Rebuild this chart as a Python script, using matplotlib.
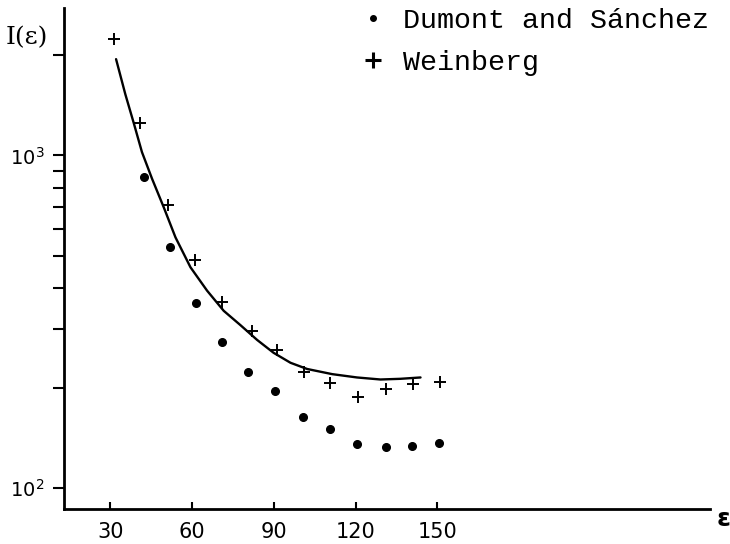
import matplotlib
matplotlib.use("Agg")
import matplotlib.pyplot as plt
from matplotlib.lines import Line2D

# Dumont and Sánchez (filled dots)
ds_x = [42.5, 52, 61.5, 71, 80.5, 90.5, 100.5, 110.5, 120.5, 131, 140.5, 150.5]
ds_y = [860, 529, 360, 275, 224, 196, 164, 150, 136, 133, 134, 137]

# Weinberg (plus markers)
wb_x = [31.5, 41, 51, 61, 71, 82, 91, 101, 110.5, 121, 131, 141, 151]
wb_y = [2233, 1255, 710, 486, 363, 297, 260, 223, 207, 188, 198, 205, 209]

# solid curve
cv_x = [32.1, 35.5, 38.6, 41.6, 45.3, 49.6, 53.9, 59.4, 65.5, 71.6, 77.7, 83.8,
        89.9, 96.1, 102.2, 111.4, 120.5, 129.1, 136.4, 143.8]
cv_y = [1947, 1527, 1250, 1023, 851, 698, 567, 461, 392, 341, 309, 279,
        255, 238, 228, 220, 215, 212, 213, 215]

x_ticks = [30, 60, 90, 120, 150]
y_major = [100, 1000]
y_minor = [200, 300, 400, 500, 600, 700, 800, 900, 2000]

fig = plt.figure(figsize=(7.30, 5.44), dpi=100)
ax = fig.add_axes([64 / 730, 1 - 509 / 544, (710 - 64) / 730, (509 - 8) / 544])

ax.plot(cv_x, cv_y, "-", color="black", lw=1.7, solid_capstyle="round",
        solid_joinstyle="round")
ax.plot(ds_x, ds_y, "o", color="black", ms=5.5, ls="none")
ax.plot(wb_x, wb_y, "+", color="black", ms=9, mew=1.4, ls="none")

ax.set_yscale("log")
ax.set_xlim(13, 250)
ax.set_ylim(86.5, 2774)

ax.set_xticks(x_ticks)
ax.set_xticklabels([str(v) for v in x_ticks], fontsize=15)
ax.set_yticks(y_major)
ax.set_yticklabels([r"$10^2$", r"$10^3$"], fontsize=14)
ax.set_yticks(y_minor, minor=True)
ax.set_yticklabels([], minor=True)

ax.tick_params(axis="x", direction="in", length=5, width=1.5, pad=9)
ax.tick_params(axis="y", which="both", direction="out", length=8, width=1.5, pad=6)

for s in ("top", "right"):
    ax.spines[s].set_visible(False)
for s in ("left", "bottom"):
    ax.spines[s].set_linewidth(2)

# axis labels
fig.text(6 / 730, 1 - 38 / 544, "I(ε)", fontsize=18, family="DejaVu Serif",
         va="center", ha="left")
fig.text(717 / 730, 1 - 519 / 544, "ε", fontsize=18, fontweight="bold",
         va="center", ha="left")

handles = [
    Line2D([], [], marker="o", color="black", ls="none", ms=4),
    Line2D([], [], marker="+", color="black", ls="none", ms=11, mew=2.2),
]
ax.legend(handles, ["Dumont and Sánchez", "Weinberg"],
          loc="upper left", bbox_to_anchor=(362 / 730, 1 - 8 / 544),
          bbox_transform=fig.transFigure, frameon=False,
          prop={"family": "Liberation Mono", "size": 20.4},
          handlelength=0.8, handletextpad=0.65, labelspacing=0.55,
          borderpad=0, borderaxespad=0)

fig.savefig("out.png", dpi=100)
